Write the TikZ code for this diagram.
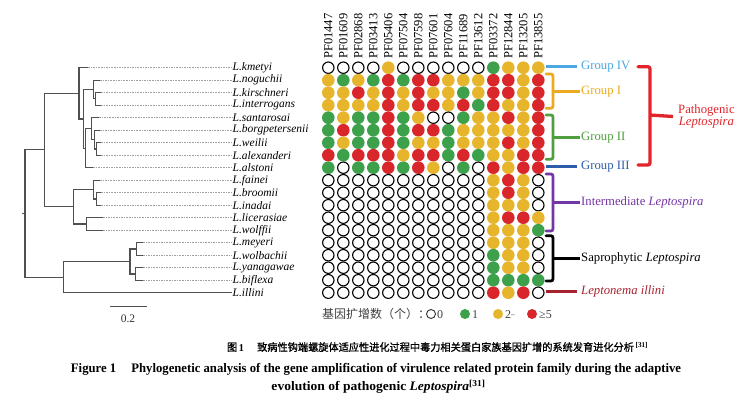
\documentclass[tikz,border=0pt]{standalone}
\usepackage{graphicx}
\usepackage{fontspec}
\setmainfont{Liberation Serif}
\newfontfamily\cjk{Noto Sans CJK SC}
\newfontfamily\cjkb[FakeBold=1.2]{Noto Sans CJK SC}
\definecolor{cG}{HTML}{3DA14C}
\definecolor{cY}{HTML}{E7B52C}
\definecolor{cR}{HTML}{D8262B}
\definecolor{gIVc}{HTML}{4BA8E0}
\definecolor{gIc}{HTML}{EBAA20}
\definecolor{gIIc}{HTML}{4F9F3F}
\definecolor{gIIIc}{HTML}{2D5DAA}
\definecolor{patc}{HTML}{E2242B}
\definecolor{intc}{HTML}{7435A5}
\definecolor{lepc}{HTML}{A8222E}
\definecolor{treec}{HTML}{505050}
\definecolor{dotc}{HTML}{A0A0A0}
\begin{document}
\begin{tikzpicture}[x=1pt,y=-1pt,
  dotO/.style={circle,draw=black,line width=1.1pt,fill=white,minimum size=11.4pt,inner sep=0pt},
  dotG/.style={circle,fill=cG,minimum size=12.6pt,inner sep=0pt},
  dotY/.style={circle,fill=cY,minimum size=12.6pt,inner sep=0pt},
  dotR/.style={circle,fill=cR,minimum size=12.6pt,inner sep=0pt},
  hdr/.style={rotate=90,anchor=west,inner sep=0pt,font=\fontsize{12.5}{13}\selectfont},
  lbl/.style={anchor=west,inner sep=0.5pt,font=\fontsize{11.5}{12}\selectfont\itshape},
  tree/.style={draw=treec,line width=1.2pt},
  leafdot/.style={draw=dotc,line width=0.6pt,dash pattern=on 1.6pt off 1pt},
  grp/.style={anchor=west,inner sep=1pt,font=\fontsize{12.7}{14}\selectfont},
  br/.style={line width=2.8pt,rounded corners=2.2pt,line cap=round},
  legt/.style={anchor=west,inner sep=0pt,font=\fontsize{12}{13}\selectfont,text=black!75}
]
\useasboundingbox (0,0) rectangle (751,401);
\fill[white] (0,0) rectangle (751,401);

% ---------- column headers ----------
\foreach \p [count=\j] in {PF01447,PF01609,PF02868,PF03413,PF05406,PF07504,PF07598,PF07601,PF07604,PF11689,PF13612,PF03372,PF12844,PF13205,PF13855}
  \node[hdr] (h\j) at ({328.3+15*(\j-1)},59) {\p};

% ---------- dot grid ----------
\foreach \row [count=\i] in {
 {O,O,O,O,Y,O,O,O,O,O,O,G,Y,Y,Y},
 {Y,G,Y,G,R,G,R,R,Y,Y,Y,R,R,Y,R},
 {Y,Y,R,Y,R,Y,R,Y,Y,G,Y,R,R,Y,R},
 {Y,Y,Y,Y,R,Y,R,R,Y,R,G,R,Y,Y,R},
 {G,Y,G,G,R,G,Y,O,O,G,Y,Y,R,Y,R},
 {G,R,G,G,R,G,R,R,G,Y,Y,Y,Y,Y,R},
 {G,Y,G,G,R,G,Y,Y,G,Y,Y,Y,R,Y,R},
 {R,G,R,R,R,Y,R,R,G,R,G,Y,Y,R,R},
 {G,O,G,G,R,G,R,Y,O,G,O,R,Y,R,R},
 {O,O,O,O,O,O,O,O,O,O,O,Y,R,Y,O},
 {O,O,O,O,O,O,O,O,O,O,O,Y,R,Y,O},
 {O,O,O,O,O,O,O,O,O,O,O,Y,Y,Y,O},
 {O,O,O,O,O,O,O,O,O,O,O,Y,R,R,Y},
 {O,O,O,O,O,O,O,O,O,O,O,Y,Y,Y,G},
 {O,O,O,O,O,O,O,O,O,O,O,Y,Y,Y,O},
 {O,O,O,O,O,O,O,O,O,O,O,G,Y,Y,O},
 {O,O,O,O,O,O,O,O,O,O,O,G,Y,Y,O},
 {O,O,O,O,O,O,O,O,O,O,O,G,G,G,G},
 {O,O,O,O,O,O,O,O,O,O,O,R,Y,R,O}}
{
  \foreach \c [count=\j] in \row
    \node[dot\c] (d-\i-\j) at ({328.3+15*(\j-1)},{67.7+12.5*(\i-1)}) {};
}

% ---------- leaf labels ----------
\foreach \nm [count=\i] in {kmetyi,noguchii,kirschneri,interrogans,santarosai,borgpetersenii,weilii,alexanderi,alstoni,fainei,broomii,inadai,licerasiae,wolffii,meyeri,wolbachii,yanagawae,biflexa,illini}
  \node[lbl] (l\i) at (232,{67.7+12.5*(\i-1)}) {L.\nm};

% ---------- tree ----------
\coordinate (root) at (25,213.5);
\coordinate (cA) at (44.5,149.8);
\coordinate (cP) at (79,93.4);
\coordinate (c29) at (83.3,118.9);
\coordinate (gI) at (93.3,89.6);
\coordinate (c34) at (95.3,98.7);
\coordinate (c59) at (85.7,148.2);
\coordinate (gII) at (91.7,128.7);
\coordinate (c68) at (94.3,139.6);
\coordinate (c78) at (96.3,149);
\coordinate (cI) at (73.3,206.8);
\coordinate (cF) at (93.3,189.6);
\coordinate (cBI) at (96.3,199);
\coordinate (cLW) at (86.7,224);
\coordinate (cB) at (63.3,277.1);
\coordinate (cS) at (130,261.5);
\coordinate (cMW) at (136.7,249);
\coordinate (cYB) at (135.7,274);
% leaf tips
\coordinate (t1) at (88,67.7);
\coordinate (t2) at (100,80.2);
\coordinate (t3) at (101,92.7);
\coordinate (t4) at (101,105.2);
\coordinate (t5) at (99,117.7);
\coordinate (t6) at (100,130.2);
\coordinate (t7) at (101,142.7);
\coordinate (t8) at (101,155.2);
\coordinate (t9) at (93,167.7);
\coordinate (t10) at (100,180.2);
\coordinate (t11) at (101,192.7);
\coordinate (t12) at (101,205.2);
\coordinate (t13) at (103,217.7);
\coordinate (t14) at (103,230.2);
\coordinate (t15) at (143,242.7);
\coordinate (t16) at (143,255.2);
\coordinate (t17) at (143,267.7);
\coordinate (t18) at (143,280.2);

\draw[tree] (root) -- ++(-3,0);
\draw[tree] (root) |- (cA);
\draw[tree] (root) |- (cB);
\draw[tree] (cA) |- (cP);
\draw[tree] (cA) |- (cI);
\draw[tree] (cP) |- (t1);
\draw[tree] (cP) |- (c29);
\draw[tree] (c29) |- (gI);
\draw[tree] (c29) |- (c59);
\draw[tree] (gI) |- (t2);
\draw[tree] (gI) |- (c34);
\draw[tree] (c34) |- (t3);
\draw[tree] (c34) |- (t4);
\draw[tree] (c59) |- (gII);
\draw[tree] (c59) |- (t9);
\draw[tree] (gII) |- (t5);
\draw[tree] (gII) |- (c68);
\draw[tree] (c68) |- (t6);
\draw[tree] (c68) |- (c78);
\draw[tree] (c78) |- (t7);
\draw[tree] (c78) |- (t8);
\draw[tree] (cI) |- (cF);
\draw[tree] (cI) |- (cLW);
\draw[tree] (cF) |- (t10);
\draw[tree] (cF) |- (cBI);
\draw[tree] (cBI) |- (t11);
\draw[tree] (cBI) |- (t12);
\draw[tree] (cLW) |- (t13);
\draw[tree] (cLW) |- (t14);
\draw[tree] (cB) |- (cS);
\draw[tree] (cB) |- (l19.west);
\draw[tree] (cS) |- (cMW);
\draw[tree] (cS) |- (cYB);
\draw[tree] (cMW) |- (t15);
\draw[tree] (cMW) |- (t16);
\draw[tree] (cYB) |- (t17);
\draw[tree] (cYB) |- (t18);
\foreach \i in {1,...,18}
  \draw[leafdot] (t\i) -- (l\i.west);

% scale bar
\coordinate (sb1) at (110,306.7);
\coordinate (sb2) at (146.7,306.7);
\draw[draw=treec,line width=1pt] (sb1) -- (sb2);
\node[font=\fontsize{11.5}{12}\selectfont,text=black!80] (sbl) at (128,319) {0.2};

% ---------- group labels ----------
\node[grp,text=gIVc] (tIV) at (580,66.7) {Group IV};
\draw[br,draw=gIVc,line cap=butt] (546,66.7) -- ([xshift=-3pt]tIV.west);
\node[grp,text=gIc] (tI) at (580,91.7) {Group I};
\draw[br,draw=gIc] (546,74) -- (553,74) -- (553,108.3) -- (546,108.3);
\draw[br,draw=gIc,line cap=butt] (553,91.7) -- (tI.west);
\node[grp,text=gIIc] (tII) at (580,137.7) {Group II};
\draw[br,draw=gIIc] (546,115) -- (553,115) -- (553,159.3) -- (546,159.3);
\draw[br,draw=gIIc,line cap=butt] (553,137.7) -- (tII.west);
\node[grp,text=gIIIc] (tIII) at (580,166.5) {Group III};
\draw[br,draw=gIIIc,line cap=butt] (546,166.5) -- ([xshift=-3pt]tIII.west);
\node[grp,text=patc,align=center] (tP) at (677,116.5) {Pathogenic\\[-1.5pt]\itshape Leptospira};
\draw[br,draw=patc,line width=3.3pt] (638,66.7) -- (650,66.7) -- (650,165) -- (638,165);
\draw[br,draw=patc,line width=3.3pt,line cap=butt] (650,115) -- ([xshift=-4pt]tP.west);
\node[grp,text=intc] (tInt) at (580,202.3) {Intermediate \textit{Leptospira}};
\draw[br,draw=intc] (546,174) -- (553,174) -- (553,231) -- (546,231);
\draw[br,draw=intc,line cap=butt] (553,202.3) -- (tInt.west);
\node[grp,text=black] (tSap) at (580,258.3) {Saprophytic \textit{Leptospira}};
\draw[br,draw=black] (546,235.7) -- (553,235.7) -- (553,281) -- (546,281);
\draw[br,draw=black,line cap=butt] (553,258.3) -- (tSap.west);
\node[grp,text=lepc] (tLep) at (580,291.5) {\itshape Leptonema illini};
\draw[br,draw=lepc,line cap=butt] (546,291.5) -- ([xshift=-3pt]tLep.west);

% ---------- legend ----------
\node[legt] (lg) at (322,314) {\cjk 基因扩增数（个）：};
\node[circle,draw=black!80,line width=0.9pt,minimum size=9pt,inner sep=0pt] (lgO) at (431,314) {};
\node[legt] (lgO0) at (437,314.5) {0};
\node[circle,fill=cG,minimum size=10pt,inner sep=0pt] (lgG) at (465,314) {};
\node[legt] (lgG1) at (472,314.5) {1};
\node[circle,fill=cY,minimum size=10pt,inner sep=0pt] (lgY) at (498,314) {};
\node[legt] (lgY2) at (505,314.5) {2\raisebox{1pt}{\scriptsize\textasciitilde}};
\node[circle,fill=cR,minimum size=10pt,inner sep=0pt] (lgR) at (532,314) {};
\node[legt] (lgR5) at (539,314.5) {≥5};

% ---------- caption ----------
\node[inner sep=0pt] (cap1) at (437.5,347) {\resizebox{421pt}{\height}{\fontsize{10.5}{12}\selectfont{\cjkb 图}\,\textbf{1}\hspace{1.3em}{\cjkb 致病性钩端螺旋体适应性进化过程中毒力相关蛋白家族基因扩增的系统发育进化分析}\,\textsuperscript{\bfseries[31]}}};
\node[inner sep=0pt] (cap2) at (376,369) {\resizebox{610pt}{\height}{\fontsize{13}{14}\selectfont\bfseries Figure 1\hspace{1.2em}Phylogenetic analysis of the gene amplification of virulence related protein family during the adaptive}};
\node[inner sep=0pt] (cap3) at (378.5,386.5) {\resizebox{214pt}{\height}{\fontsize{13}{14}\selectfont\bfseries evolution of pathogenic \textit{Leptospira}\textsuperscript{[31]}}};
\end{tikzpicture}
\end{document}
